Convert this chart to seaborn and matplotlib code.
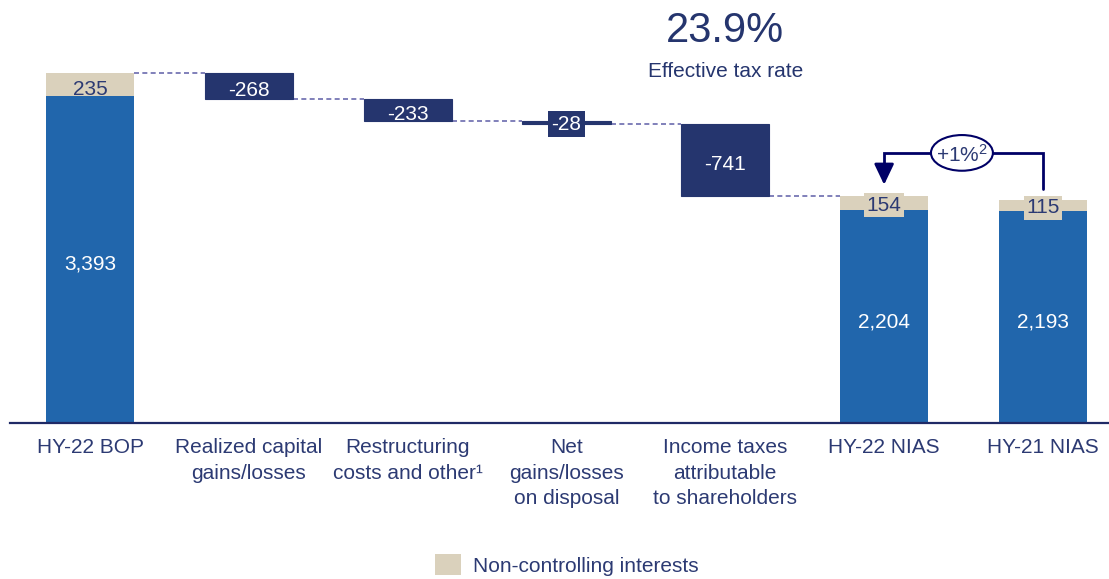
import numpy as np
import pandas as pd
import matplotlib
matplotlib.use("Agg")
import matplotlib.pyplot as plt
from matplotlib.patches import Ellipse, Patch
import seaborn as sns

# ---- data -------------------------------------------------------------
categories = ["HY-22 BOP", "Realized capital", "Restructuring", "Net",
              "Income taxes", "HY-22 NIAS", "HY-21 NIAS"]
tick_labels = ["HY-22 BOP",
               "Realized capital\ngains/losses",
               "Restructuring\ncosts and other\u00b9",
               "Net\ngains/losses\non disposal",
               "Income taxes\nattributable\nto shareholders",
               "HY-22 NIAS",
               "HY-21 NIAS"]
total_cats = ["HY-22 BOP", "HY-22 NIAS", "HY-21 NIAS"]
core_values = [3393, 2204, 2193]
nci_values = [235, 154, 115]
step_cats = ["Realized capital", "Restructuring", "Net", "Income taxes"]
step_values = [-268, -233, -28, -741]
tax_rate = "23.9%"
yoy_change = r"+1%$^{2}$"

# ---- style ------------------------------------------------------------
BLUE = "#2166AC"
NAVY = "#25356E"
BEIGE = "#DAD1BC"
TEXT = "#2C3A73"
DASH = "#6B6BAE"
ARROW = "#000066"

sns.set_theme(style="white")
plt.rcParams["font.family"] = ["Liberation Sans", "DejaVu Sans"]
plt.rcParams["mathtext.fontset"] = "custom"
plt.rcParams["mathtext.rm"] = "Liberation Sans"
plt.rcParams["mathtext.it"] = "Liberation Sans"
plt.rcParams["mathtext.default"] = "regular"

fig = plt.figure(figsize=(11.09, 5.79), dpi=100)
ax = fig.add_axes([10 / 1109, 156 / 579, 1099 / 1109, 423 / 579])

totals_df = pd.DataFrame({
    "category": total_cats,
    "core": core_values,
    "total": np.array(core_values) + np.array(nci_values),
})
BAR_W = 0.556


def value_label(x, y, s, color, box=None, dy=-3.5):
    # dy (points) centres the digits visually inside a segment
    ax.annotate(s, (x, y), xytext=(0, dy), textcoords="offset points",
                ha="center", va="center", color=color, fontsize=15,
                bbox=box, zorder=4)


# total bars: beige (full height) with the blue core drawn over it
sns.barplot(data=totals_df, x="category", y="total", order=categories,
            color=BEIGE, saturation=1, width=BAR_W, linewidth=0, ax=ax)
sns.barplot(data=totals_df, x="category", y="core", order=categories,
            color=BLUE, saturation=1, width=BAR_W, linewidth=0, ax=ax)

pos = {c: i for i, c in enumerate(categories)}

# floating waterfall steps
level = totals_df["total"].iloc[0]
levels = [level]
for cat, val in zip(step_cats, step_values):
    x = pos[cat]
    ax.bar(x, val, bottom=level, width=BAR_W, color=NAVY,
           edgecolor=NAVY, linewidth=0.8, zorder=3)
    if abs(val) < 60:
        value_label(x, level + val / 2, f"{val:,}", "white",
                    dict(boxstyle="square,pad=0.18", fc=NAVY, ec="none"),
                    dy=-1)
    else:
        value_label(x, level + val / 2, f"{val:,}", "white")
    level += val
    levels.append(level)

# dashed connectors between consecutive bars
seq = ["HY-22 BOP"] + step_cats + ["HY-22 NIAS"]
for i in range(len(seq) - 1):
    x0 = pos[seq[i]] + BAR_W / 2
    x1 = pos[seq[i + 1]] - BAR_W / 2
    ax.plot([x0, x1], [levels[i], levels[i]], color=DASH, lw=1.2,
            ls=(0, (3, 2)), zorder=2)

# labels on total bars
for cat, core, nci in zip(total_cats, core_values, nci_values):
    x = pos[cat]
    value_label(x, core / 2, f"{core:,}", "white")
    if cat == "HY-22 BOP":
        value_label(x, core + nci / 2, f"{nci:,}", TEXT)
    else:
        value_label(x, core + nci / 2, f"{nci:,}", TEXT,
                    dict(boxstyle="square,pad=0.12", fc=BEIGE, ec="none"),
                    dy=-1.5)

# year-on-year comparison arrow
x_new, x_old = pos["HY-22 NIAS"], pos["HY-21 NIAS"]
y_arc = 2800
ax.plot([x_old, x_old, x_new, x_new], [2430, y_arc, y_arc, 2600],
        color=ARROW, lw=2, solid_joinstyle="miter", zorder=5)
ax.annotate("", xy=(x_new, 2470), xytext=(x_new, 2620),
            arrowprops=dict(arrowstyle="-|>,head_width=0.5,head_length=1.05",
                            color=ARROW, lw=2, shrinkA=0, shrinkB=0),
            zorder=5)
x_mid = (x_new + x_old) / 2 - 0.01
ax.add_patch(Ellipse((x_mid, y_arc), 0.39, 370,
                     fc="white", ec=ARROW, lw=1.5, zorder=6))
ax.text(x_mid, y_arc - 20, yoy_change, ha="center", va="center",
        color=TEXT, fontsize=15, zorder=7)

# effective tax rate callout
ax.text(pos["Income taxes"], 3945, tax_rate, ha="center", va="baseline",
        color=NAVY, fontsize=30)
ax.text(pos["Income taxes"], 3590, "Effective tax rate", ha="center",
        va="baseline", color=NAVY, fontsize=15)

# axes
ax.set_xlim(-0.504, 6.416)
ax.set_ylim(0, 4385)
ax.set_xlabel("")
ax.set_ylabel("")
ax.set_yticks([])
ax.set_xticks(range(len(categories)))
ax.set_xticklabels(tick_labels, fontsize=15, color=TEXT, linespacing=1.42)
ax.tick_params(axis="x", length=0, pad=11)
for side in ["top", "left", "right"]:
    ax.spines[side].set_visible(False)
ax.spines["bottom"].set_color("#1F2A66")
ax.spines["bottom"].set_linewidth(1.6)
ax.patch.set_alpha(0)

fig.legend(handles=[Patch(fc=BEIGE, ec="none", label="Non-controlling interests")],
           loc="center", bbox_to_anchor=(0.511, 0.024), frameon=False,
           fontsize=15, labelcolor=TEXT, handlelength=1.25, handleheight=1.15,
           handletextpad=0.55, borderpad=0)

fig.savefig("out.png", dpi=100)
